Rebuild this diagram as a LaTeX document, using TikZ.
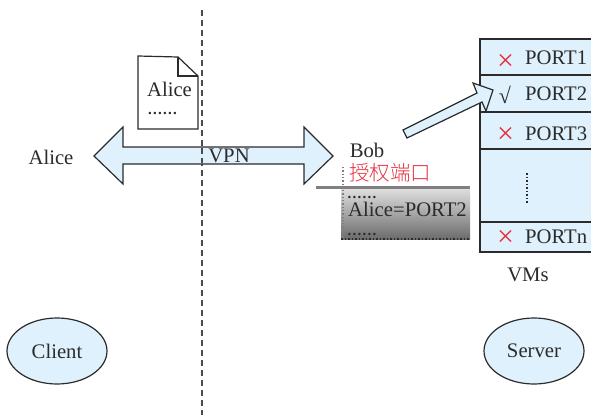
\documentclass[tikz,border=0pt]{standalone}
\usepackage{fontspec}
\setmainfont{Liberation Serif}
\newfontfamily\cjkf{Noto Sans CJK SC Light}[Scale=1]
\newfontfamily\dotf{Liberation Serif Bold}[LetterSpace=8.3]
\definecolor{paleblue}{HTML}{DFF1FC}
\definecolor{inkline}{HTML}{2B2B2B}
\definecolor{redmark}{HTML}{E5303F}
\tikzset{
  blueshape/.style={draw=inkline,fill=paleblue,line width=1.2pt,line join=miter},
  lab/.style={font=\fontsize{20.7}{22}\selectfont,text=inkline,inner sep=0pt},
  xmark/.style={font=\fontsize{30}{30}\selectfont,text=redmark,inner sep=0pt},
  dots/.style={font=\dotf\fontsize{15}{15}\selectfont,text=inkline,inner sep=0pt},
  divline/.style={draw=black!70,line width=1.4pt,dash pattern=on 6pt off 4pt},
  elli/.style={ellipse,blueshape,minimum width=100pt,minimum height=66pt,inner sep=0pt,font=\fontsize{20.7}{22}\selectfont,text=inkline}
}
\usetikzlibrary{shapes.geometric}
\begin{document}
\begin{tikzpicture}[x=1pt,y=-1pt]
\useasboundingbox (0,0) rectangle (591,415);
% divider
\coordinate (divtop) at (202,10);
\coordinate (divbot) at (202,415);
\draw[divline] (divtop) -- (divbot);
% document
\draw[blueshape,fill=white] (138,56) -- (178,57) -- (198,76) -- (198,129) -- (138,129) -- cycle;
\draw[blueshape,fill=none] (178,57) -- (178,76) -- (198,76);
\node[lab] (docname) at (169.5,89) {Alice};
\node[dots,anchor=base] (docdots) at (162.5,114) {......};
% VPN arrow
\draw[blueshape] (94,156) -- (123,127) -- (123,147) -- (304,147) -- (304,127) -- (333,156) -- (304,184) -- (304,164) -- (123,164) -- (123,184) -- cycle;
\draw[divline] (202,148) -- (202,163);
\node[lab] (vpn) at (229,156) {VPN};
\node[lab] (alice) at (51,157) {Alice};
% Bob
\node[lab] (bob) at (367,150) {Bob};
\node[font=\cjkf\fontsize{20.5}{22}\selectfont,text=redmark,inner sep=0pt] (auth) at (390,172.5) {授权端口};
\shade[top color=black!12,bottom color=black!58] (341,188) rectangle (470,239);
\draw[black!50,line width=1.3pt,dotted] (343,167) -- (343,239);
\draw[inkline,line width=1.5pt,dash pattern=on 1.5pt off 2pt] (341,239) -- (470,239);
\draw[black!50,line width=3pt] (316,187) -- (470,187);
\node[dots,anchor=base] (d1) at (362,198) {......};
\node[lab] (aliceport) at (407.5,209) {Alice=PORT2};
\node[dots,anchor=base] (d2) at (362,235) {......};
% table
\draw[blueshape] (480,39) rectangle (600,252);
\draw[blueshape] (480,75) -- (600,75) (480,112) -- (600,112) (480,149) -- (600,149) (480,222) -- (600,222);
\node[xmark] (x1) at (505.5,62.5) {×};
\node[lab,anchor=west] (p1) at (525,58) {PORT1};
\node[font=\fontsize{22}{22}\selectfont,text=inkline,inner sep=0pt] (ck) at (505,95) {√};
\node[lab,anchor=west] (p2) at (525,94) {PORT2};
\node[xmark] (x3) at (505.5,135.5) {×};
\node[lab,anchor=west] (p3) at (525,134) {PORT3};
\node[xmark] (x4) at (505.5,238) {×};
\node[lab,anchor=west] (pn) at (525,237) {PORTn};
\draw[inkline,line width=1.5pt,dash pattern=on 1.5pt off 2pt] (527,173) -- (527,203);
\node[lab] (vms) at (528,275) {VMs};
% pointer
\draw[blueshape] (403,130) -- (477,93) -- (473,83) -- (493,90) -- (486,111) -- (482,102) -- (407,138) -- cycle;
% hosts
\node[elli] (client) at (57,351) {Client};
\node[elli] (server) at (534,351) {Server};
\end{tikzpicture}
\end{document}
